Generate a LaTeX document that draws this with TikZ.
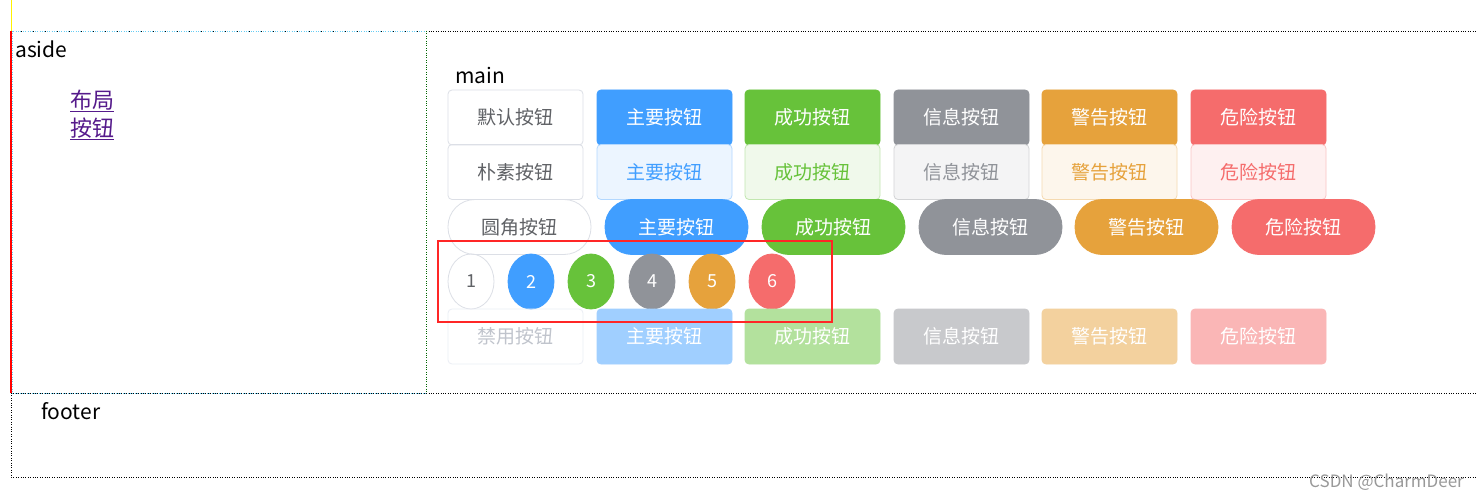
\documentclass[tikz,border=0pt]{standalone}
\usepackage{fontspec}
\setmainfont{Noto Sans CJK SC}
\usetikzlibrary{calc,shapes.geometric}
\definecolor{pri}{HTML}{409EFF}\definecolor{suc}{HTML}{67C23A}\definecolor{inf}{HTML}{909399}
\definecolor{war}{HTML}{E6A23C}\definecolor{dan}{HTML}{F56C6C}
\definecolor{ppri}{HTML}{ECF5FF}\definecolor{bpri}{HTML}{B3D8FF}
\definecolor{psuc}{HTML}{F0F9EB}\definecolor{bsuc}{HTML}{C2E7B0}
\definecolor{pinf}{HTML}{F4F4F5}\definecolor{binf}{HTML}{D3D4D6}
\definecolor{pwar}{HTML}{FDF6EC}\definecolor{bwar}{HTML}{F5DAB1}
\definecolor{pdan}{HTML}{FEF0F0}\definecolor{bdan}{HTML}{FBC4C4}
\definecolor{dpri}{HTML}{A0CFFF}\definecolor{dsuc}{HTML}{B3E19D}\definecolor{dinf}{HTML}{C8C9CC}
\definecolor{dwar}{HTML}{F3D19E}\definecolor{ddan}{HTML}{FAB6B6}
\definecolor{bdef}{HTML}{DCDFE6}\definecolor{tdef}{HTML}{606266}\definecolor{tdis}{HTML}{C0C4CC}
\definecolor{bdis}{HTML}{EBEEF5}\definecolor{link}{HTML}{551A8B}
\tikzset{btn/.style={draw,rounded corners=4pt,minimum width=135pt,minimum height=55pt,inner sep=0pt,font=\fontsize{19}{21}\selectfont,line width=0.8pt},
rbtn/.style={btn,rounded corners=27pt,minimum width=143pt},
cbtn/.style={draw,ellipse,minimum width=46pt,minimum height=55pt,inner sep=0pt,font=\fontsize{18}{20}\selectfont,line width=0.8pt},
lbl/.style={anchor=west,inner sep=0pt,font=\fontsize{21}{23}\selectfont}}
\begin{document}
\begin{tikzpicture}[x=1pt,y=-1pt]
\useasboundingbox[fill=white] (0,0) rectangle (1476,500);
\draw[yellow,line width=1pt] (11,0) -- (11,31);
\draw[black,dotted] (11,31) -- (1476,31);
\draw[cyan!60,dotted] (12,31) rectangle (426,393);
\draw[red,line width=2pt] (11,31) -- (11,393);
\draw[black!60!green,dotted] (426,31) -- (426,393);
\draw[black,dotted] (11,393) -- (1476,393) (11,393) -- (11,477) -- (1476,477);
\node[lbl] (aside) at (15,49) {aside};
\node[lbl,text=link,font=\fontsize{22}{24}\selectfont] (l1) at (70,101) {\underline{布局}};
\node[lbl,text=link,font=\fontsize{22}{24}\selectfont] (l2) at (70,129) {\underline{按钮}};
\node[lbl] (main) at (455,76) {main};
\node[lbl] (footer) at (41,411) {footer};
\node[btn,draw=bdef,text=tdef] (a1) at (515.5,117.5) {默认按钮};
\node[btn,draw=pri,fill=pri,text=white] (a2) at (664.5,117.5) {主要按钮};
\node[btn,draw=suc,fill=suc,text=white] (a3) at (812.5,117.5) {成功按钮};
\node[btn,draw=inf,fill=inf,text=white] (a4) at (961.5,117.5) {信息按钮};
\node[btn,draw=war,fill=war,text=white] (a5) at (1109.5,117.5) {警告按钮};
\node[btn,draw=dan,fill=dan,text=white] (a6) at (1258.5,117.5) {危险按钮};
\node[btn,draw=bdef,text=tdef] (b1) at (515.5,172) {朴素按钮};
\node[btn,draw=bpri,fill=ppri,text=pri] (b2) at (664.5,172) {主要按钮};
\node[btn,draw=bsuc,fill=psuc,text=suc] (b3) at (812.5,172) {成功按钮};
\node[btn,draw=binf,fill=pinf,text=inf] (b4) at (961.5,172) {信息按钮};
\node[btn,draw=bwar,fill=pwar,text=war] (b5) at (1109.5,172) {警告按钮};
\node[btn,draw=bdan,fill=pdan,text=dan] (b6) at (1258.5,172) {危险按钮};
\node[rbtn,draw=bdef,text=tdef] (c1) at (519.5,227) {圆角按钮};
\node[rbtn,draw=pri,fill=pri,text=white] (c2) at (676.5,227) {主要按钮};
\node[rbtn,draw=suc,fill=suc,text=white] (c3) at (833.5,227) {成功按钮};
\node[rbtn,draw=inf,fill=inf,text=white] (c4) at (990.5,227) {信息按钮};
\node[rbtn,draw=war,fill=war,text=white] (c5) at (1146.5,227) {警告按钮};
\node[rbtn,draw=dan,fill=dan,text=white] (c6) at (1303.5,227) {危险按钮};
\node[cbtn,draw=bdef,text=tdef] (d1) at (471,281.5) {1};
\node[cbtn,draw=pri,fill=pri,text=white] (d2) at (531,281.5) {2};
\node[cbtn,draw=suc,fill=suc,text=white] (d3) at (591,281.5) {3};
\node[cbtn,draw=inf,fill=inf,text=white] (d4) at (652,281.5) {4};
\node[cbtn,draw=war,fill=war,text=white] (d5) at (712,281.5) {5};
\node[cbtn,draw=dan,fill=dan,text=white] (d6) at (772,281.5) {6};
\node[btn,draw=bdis,text=tdis] (e1) at (515.5,336.5) {禁用按钮};
\node[btn,draw=dpri,fill=dpri,text=white] (e2) at (664.5,336.5) {主要按钮};
\node[btn,draw=dsuc,fill=dsuc,text=white] (e3) at (812.5,336.5) {成功按钮};
\node[btn,draw=dinf,fill=dinf,text=white] (e4) at (961.5,336.5) {信息按钮};
\node[btn,draw=dwar,fill=dwar,text=white] (e5) at (1109.5,336.5) {警告按钮};
\node[btn,draw=ddan,fill=ddan,text=white] (e6) at (1258.5,336.5) {危险按钮};
\draw[red!85!white,line width=2.5pt] (438,241) rectangle (832,322);
\node[anchor=east,inner sep=0pt,text=black!40,font=\fontsize{17}{19}\selectfont] (wm) at (1464,482) {CSDN @CharmDeer};
\end{tikzpicture}
\end{document}
